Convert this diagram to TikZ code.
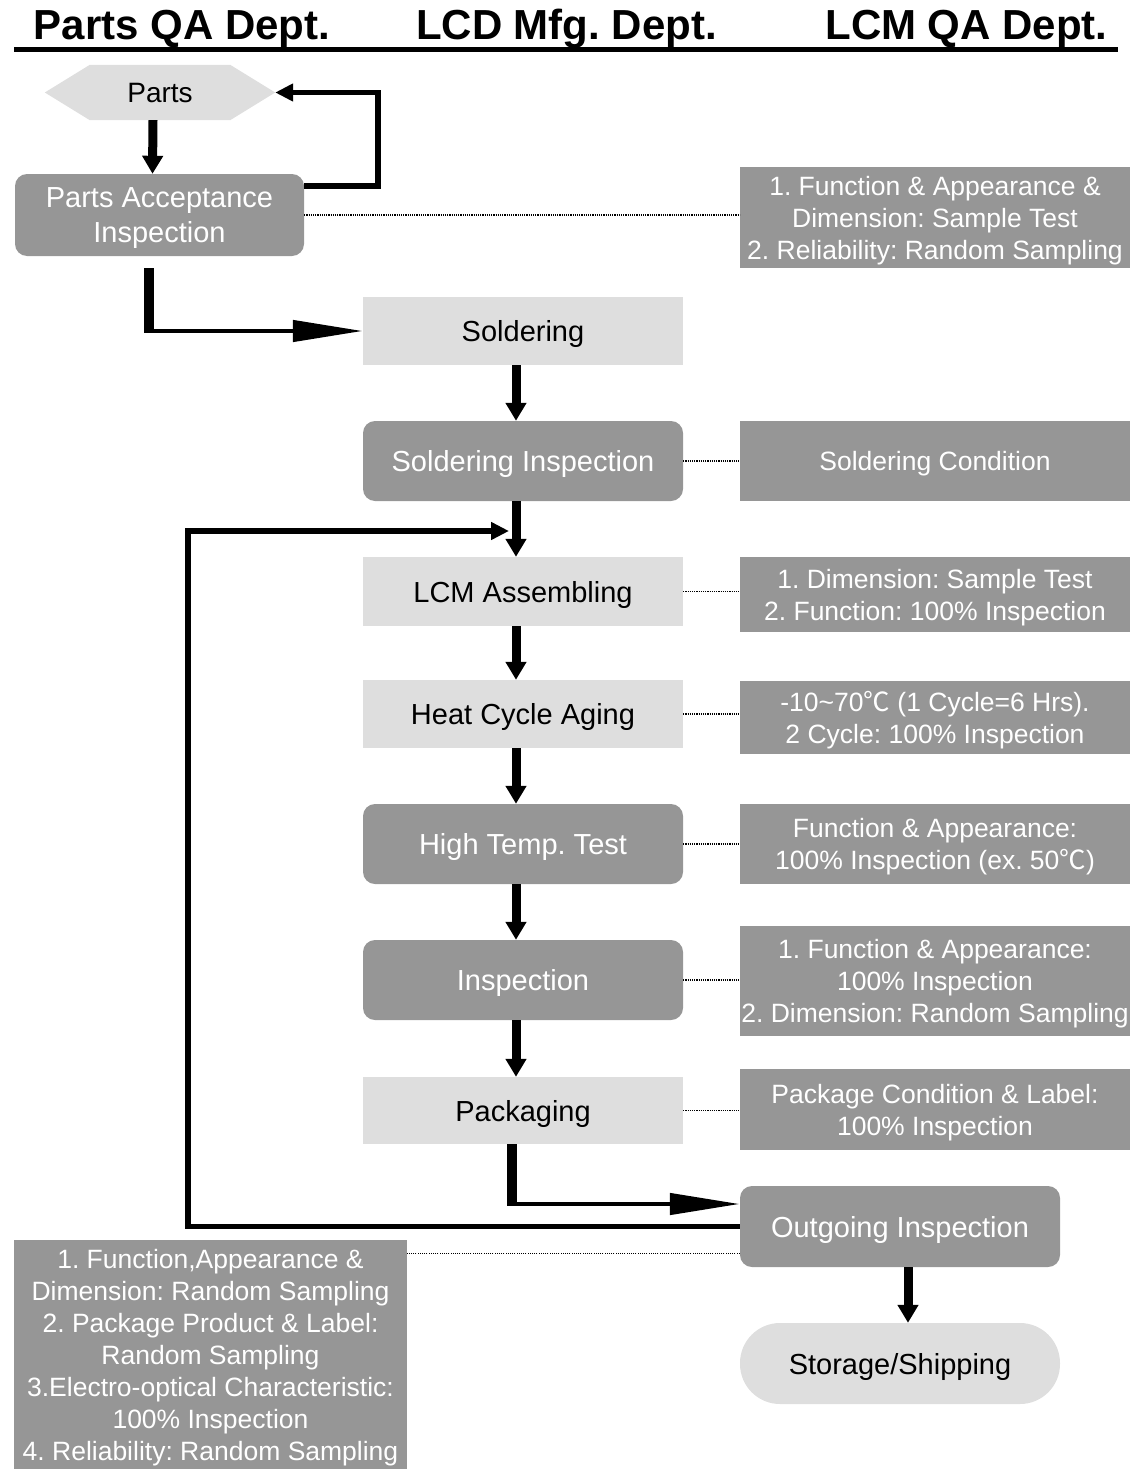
\documentclass[tikz,border=0pt]{standalone}
\usepackage{fontspec}
\setmainfont{Liberation Sans}
\newfontfamily\cjk{Noto Sans CJK SC}
\usetikzlibrary{arrows.meta,backgrounds}
\definecolor{dk}{HTML}{969696}
\definecolor{lt}{HTML}{DEDEDE}
\newcommand{\degC}{{\cjk ℃}}
\frenchspacing
\begin{document}
\begin{tikzpicture}[x=1pt,y=-1pt,
  hdr/.style={font=\fontsize{42}{50}\selectfont\bfseries, anchor=base, inner sep=0pt},
  lightbox/.style={fill=lt, minimum width=320pt, inner sep=0pt, text depth=0pt, font=\fontsize{29}{35}\selectfont, align=center},
  darkbox/.style={fill=dk, rounded corners=12pt, text=white, inner sep=0pt, text depth=0pt, minimum width=320pt, minimum height=80pt, font=\fontsize{29}{35}\selectfont, align=center},
  infobox/.style={fill=dk, text=white, inner sep=0pt, text depth=0pt, minimum width=390pt, font=\fontsize{26.5}{32}\selectfont, align=center},
  vflow/.style={line width=9pt, -{Triangle[width=20pt,length=18pt]}},
  hlong/.style={line width=4.5pt, -{Triangle[width=21pt,length=70pt]}},
  loopline/.style={line width=5.5pt, -{Triangle[width=17pt,length=18pt]}},
  dots/.style={line width=1.1pt, dash pattern=on 1.1pt off 1.1pt}
]
\useasboundingbox (0,0) rectangle (1143,1469);

% headers
\node[hdr] (h1) at (182,40) {Parts QA Dept.};
\node[hdr] (h2) at (566.5,40) {LCD Mfg. Dept.};
\node[hdr] (h3) at (966.5,40) {LCM QA Dept.};
\coordinate (ul1) at (14,50);
\coordinate (ul2) at (1118,50);
\draw[line width=5pt] (ul1) -- (ul2);

% parts hexagon
\node[minimum width=230pt, minimum height=55pt, inner sep=0pt, text depth=0pt, font=\fontsize{28}{30}\selectfont] (parts) at (160,92.5) {Parts};
\begin{scope}[on background layer]
\fill[lt] (parts.west) -- ([xshift=45pt]parts.north west) -- ([xshift=-45pt]parts.north east) -- (parts.east) -- ([xshift=-45pt]parts.south east) -- ([xshift=45pt]parts.south west) -- cycle;
\end{scope}

% left column
\node[darkbox, minimum width=289pt, minimum height=82pt] (pa) at (159.5,215) {Parts Acceptance\\Inspection};

% middle column
\node[lightbox, minimum height=68pt] (sold) at (523,331) {Soldering};
\node[darkbox] (si) at (523,461) {Soldering Inspection};
\node[lightbox, minimum height=69pt] (lcm) at (523,591.5) {LCM Assembling};
\node[lightbox, minimum height=68pt] (heat) at (523,714) {Heat Cycle Aging};
\node[darkbox] (ht) at (523,844) {High Temp. Test};
\node[darkbox] (insp) at (523,980) {Inspection};
\node[lightbox, minimum height=67pt] (pack) at (523,1110.5) {Packaging};

% right column
\node[darkbox, minimum height=81pt] (oi) at (900,1226.5) {Outgoing Inspection};
\node[fill=lt, rounded corners=40pt, minimum width=320pt, minimum height=81pt, inner sep=0pt, text depth=0pt, font=\fontsize{29}{35}\selectfont] (ship) at (900,1363.5) {Storage/Shipping};

% info boxes
\node[infobox, minimum height=101pt] (i1) at (935,217.5) {1. Function \& Appearance \&\\ Dimension: Sample Test\\2. Reliability: Random Sampling};
\node[infobox, minimum height=80pt] (i2) at (935,461) {Soldering Condition};
\node[infobox, minimum height=75pt] (i3) at (935,594.5) {1. Dimension: Sample Test\\2. Function: 100\% Inspection};
\node[infobox, minimum height=73pt] (i4) at (935,717.5) {-10\textasciitilde 70\degC{} (1 Cycle=6 Hrs).\\2 Cycle: 100\% Inspection};
\node[infobox, minimum height=80pt] (i5) at (935,844) {Function \& Appearance:\\100\% Inspection (ex. 50\degC)};
\node[infobox, minimum height=110pt] (i6) at (935,981) {1. Function \& Appearance:\\100\% Inspection\\2. Dimension: Random Sampling};
\node[infobox, minimum height=81pt] (i7) at (935,1109.5) {Package Condition \& Label:\\100\% Inspection};
\node[infobox, minimum width=393pt, minimum height=229pt] (i8) at (210.5,1354.5) {1. Function,Appearance \&\\Dimension: Random Sampling\\2. Package Product \& Label:\\Random Sampling\\3.Electro-optical Characteristic:\\100\% Inspection\\4. Reliability: Random Sampling};

% dotted links
\draw[dots] (pa.east) -- (pa.east -| i1.west);
\draw[dots] (si.east) -- (si.east -| i2.west);
\draw[dots] (lcm.east) -- (lcm.east -| i3.west);
\draw[dots] (heat.east) -- (heat.east -| i4.west);
\draw[dots] (ht.east) -- (ht.east -| i5.west);
\draw[dots] (insp.east) -- (insp.east -| i6.west);
\draw[dots] (pack.east) -- (pack.east -| i7.west);
\draw[dots] ([yshift=-27pt]oi.west) -- ([yshift=-27pt]oi.west -| i8.east);

% flow arrows
\draw[vflow] ([xshift=-7pt]parts.south) -- ([xshift=-7pt]pa.north);
\draw[loopline] ([yshift=29pt]pa.east) -- ++(74,0) |- (parts.east);

\coordinate (c1) at (149,331);
\draw[line width=10pt] ([yshift=-12pt]pa.south -| c1) -- ([yshift=-2.25pt]c1);
\draw[hlong] (c1) -- (sold.west);

\draw[vflow] ([xshift=-7pt]sold.south) -- ([xshift=-7pt]si.north);
\draw[vflow] ([xshift=-7pt]si.south) -- ([xshift=-7pt]lcm.north);
\draw[vflow] ([xshift=-7pt]lcm.south) -- ([xshift=-7pt]heat.north);
\draw[vflow] ([xshift=-7pt]heat.south) -- ([xshift=-7pt]ht.north);
\draw[vflow] ([xshift=-7pt]ht.south) -- ([xshift=-7pt]insp.north);
\draw[vflow] ([xshift=-7pt]insp.south) -- ([xshift=-7pt]pack.north);

\coordinate (c2) at (512,1204);
\draw[line width=10pt] (pack.south -| c2) -- ([yshift=-2.25pt]c2);
\draw[hlong] (c2) -- (c2 -| oi.west);

\draw[vflow] ([xshift=8pt]oi.south) -- ([xshift=8pt]ship.north);

% feedback loop
\coordinate (fbc) at (188,531);
\coordinate (fbe) at (509,531);
\draw[loopline] (oi.west) -| (fbc) -- (fbe);
\end{tikzpicture}
\end{document}
